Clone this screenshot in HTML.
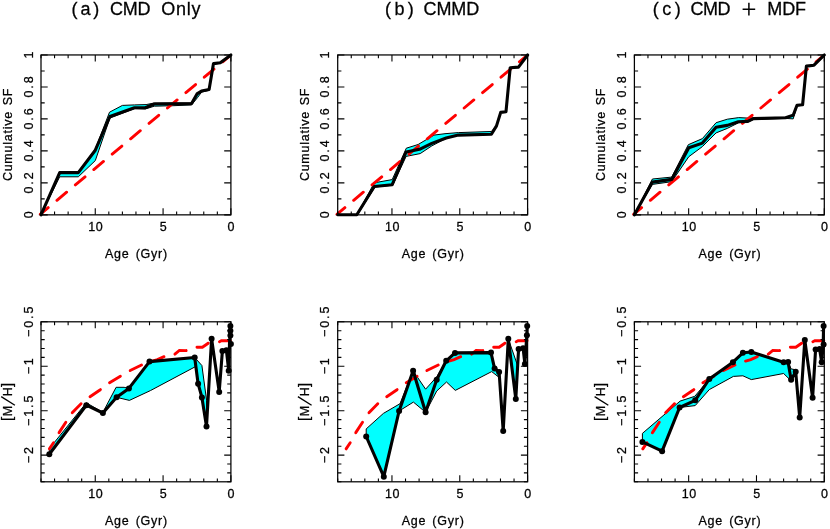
<!DOCTYPE html>
<html><head><meta charset="utf-8"><title>SFH</title>
<style>
html,body{margin:0;padding:0;background:#fff;}
body{width:830px;height:529px;overflow:hidden;font-family:"Liberation Sans",sans-serif;}
svg{display:block;}
text{stroke:#000;stroke-width:0.28px;}
</style></head><body>
<svg width="830" height="529" viewBox="0 0 830 529">
<rect width="830" height="529" fill="#fff"/>
<defs>
<clipPath id="ct0"><rect x="38.80" y="54.45" width="192.60" height="160.90"/></clipPath>
<clipPath id="cb0"><rect x="40.50" y="321.30" width="192.40" height="161.00"/></clipPath>
<clipPath id="ct1"><rect x="335.50" y="54.45" width="192.60" height="160.90"/></clipPath>
<clipPath id="cb1"><rect x="337.20" y="321.30" width="192.40" height="161.00"/></clipPath>
<clipPath id="ct2"><rect x="632.20" y="54.45" width="192.60" height="160.90"/></clipPath>
<clipPath id="cb2"><rect x="633.90" y="321.30" width="192.40" height="161.00"/></clipPath>
</defs>
<g font-family="Liberation Sans, sans-serif" font-size="12.5" fill="#000" style="opacity:0.999">
<text x="71.5" y="15" font-size="18" stroke="none" textLength="27.8" lengthAdjust="spacing">(a)</text>
<text x="110.1" y="15" font-size="18" stroke="none" textLength="40.3" lengthAdjust="spacing">CMD</text>
<text x="161.2" y="15" font-size="18" stroke="none" textLength="39.3" lengthAdjust="spacing">Only</text>
<polygon points="41.0,214.8 59.7,171.7 78.3,171.7 95.3,149.1 109.5,112.2 122.4,105.4 134.6,104.9 146.1,104.6 154.3,103.0 191.6,103.0 197.0,93.5 201.5,90.8 209.1,89.3 213.5,63.6 220.3,62.8 230.9,55.0 230.9,55.0 220.3,63.3 213.5,64.0 209.1,90.3 201.5,92.2 197.7,97.4 191.6,104.9 173.9,105.7 154.3,106.2 145.2,109.0 134.5,108.6 109.9,118.1 95.3,160.6 78.3,176.8 59.7,176.8 41.0,214.8" fill="#00ffff" stroke="#000" stroke-width="1" stroke-linejoin="round"/>
<polyline clip-path="url(#ct0)" points="39.6,214.8 230.9,55.0" fill="none" stroke="#ff0000" stroke-width="2.9" stroke-linecap="round" stroke-dasharray="12.6 11.4" stroke-dashoffset="1.4"/>
<polyline points="41.0,214.8 59.7,172.6 78.3,172.6 95.3,150.2 109.9,116.5 134.5,107.8 145.2,107.8 154.3,104.0 191.6,103.6 197.0,93.9 201.5,91.1 209.1,89.6 213.5,63.6 220.3,62.8 230.9,55.0" fill="none" stroke="#000" stroke-width="3.1" stroke-linejoin="round" stroke-linecap="round"/>
<path d="M230.90 214.85v-6.5M230.90 54.95v6.5M217.34 214.85v-3.4M217.34 54.95v3.4M203.77 214.85v-3.4M203.77 54.95v3.4M190.21 214.85v-3.4M190.21 54.95v3.4M176.64 214.85v-3.4M176.64 54.95v3.4M163.08 214.85v-6.5M163.08 54.95v6.5M149.51 214.85v-3.4M149.51 54.95v3.4M135.95 214.85v-3.4M135.95 54.95v3.4M122.39 214.85v-3.4M122.39 54.95v3.4M108.82 214.85v-3.4M108.82 54.95v3.4M95.26 214.85v-6.5M95.26 54.95v6.5M81.69 214.85v-3.4M81.69 54.95v3.4M68.13 214.85v-3.4M68.13 54.95v3.4M54.56 214.85v-3.4M54.56 54.95v3.4M41.00 214.85v-3.4M41.00 54.95v3.4M41.00 214.85h6.7M230.90 214.85h-6.7M41.00 198.86h3.7M230.90 198.86h-3.7M41.00 182.87h6.7M230.90 182.87h-6.7M41.00 166.88h3.7M230.90 166.88h-3.7M41.00 150.89h6.7M230.90 150.89h-6.7M41.00 134.90h3.7M230.90 134.90h-3.7M41.00 118.91h6.7M230.90 118.91h-6.7M41.00 102.92h3.7M230.90 102.92h-3.7M41.00 86.93h6.7M230.90 86.93h-6.7M41.00 70.94h3.7M230.90 70.94h-3.7M41.00 54.95h6.7M230.90 54.95h-6.7" stroke="#000" stroke-width="1.1" fill="none"/>
<rect x="41.00" y="54.95" width="189.90" height="159.90" fill="none" stroke="#000" stroke-width="1.25"/>
<text x="95.8" y="231.2" text-anchor="middle" letter-spacing="0.6">10</text>
<text x="163.6" y="231.2" text-anchor="middle" letter-spacing="0.6">5</text>
<text x="231.4" y="231.2" text-anchor="middle" letter-spacing="0.6">0</text>
<text x="136.4" y="257.9" text-anchor="middle" letter-spacing="0.75" word-spacing="2">Age (Gyr)</text>
<text transform="translate(32.6 213.9) rotate(-90)" text-anchor="middle" letter-spacing="1.9">0</text>
<text transform="translate(32.6 182.0) rotate(-90)" text-anchor="middle" letter-spacing="1.9">0.2</text>
<text transform="translate(32.6 150.0) rotate(-90)" text-anchor="middle" letter-spacing="1.9">0.4</text>
<text transform="translate(32.6 118.0) rotate(-90)" text-anchor="middle" letter-spacing="1.9">0.6</text>
<text transform="translate(32.6 86.0) rotate(-90)" text-anchor="middle" letter-spacing="1.9">0.8</text>
<text transform="translate(32.6 54.1) rotate(-90)" text-anchor="middle" letter-spacing="1.9">1</text>
<text transform="translate(11.9 134.5) rotate(-90)" text-anchor="middle" letter-spacing="0.75" word-spacing="1.5">Cumulative SF</text>
<polygon points="49.3,448.7 86.3,402.8 102.9,412.3 116.1,387.3 124.1,387.3 128.9,388.4 149.5,361.6 194.7,357.5 201.9,365.5 206.6,400.3 206.5,426.4 206.5,426.4 201.9,397.4 198.1,383.7 196.3,366.2 150.6,390.5 129.4,400.4 116.6,397.3 102.9,413.0 86.3,405.2 49.3,454.3" fill="#00ffff" stroke="#000" stroke-width="1" stroke-linejoin="round"/>
<polyline clip-path="url(#cb0)" points="49.4,448.9 54.0,442.0 59.4,432.1 66.2,421.6 72.5,412.4 81.0,403.8 89.7,396.9 100.3,389.7 109.2,383.0 120.9,376.0 129.8,370.7 141.8,364.9 149.8,361.7 157.4,359.6 163.9,356.7 173.7,355.1 179.4,350.4 186.1,350.6 190.9,348.5 195.6,347.3 202.4,347.3 208.2,343.2 217.9,342.5 221.4,340.8 230.4,340.8" fill="none" stroke="#ff0000" stroke-width="2.9" stroke-linecap="round" stroke-dasharray="12.6 11.4" stroke-dashoffset="5.2"/>
<polyline points="49.3,454.3 86.3,405.2 102.9,413.0 116.6,397.3 128.9,388.4 149.5,361.6 194.7,357.5 198.1,383.7 201.9,397.4 206.5,426.4 211.6,338.8 219.2,391.9 222.4,350.9 226.4,350.3 228.7,370.7 229.5,344.1 230.0,335.5 230.2,330.8 230.4,325.9" fill="none" stroke="#000" stroke-width="3.1" stroke-linejoin="round" stroke-linecap="round"/>
<circle cx="49.3" cy="454.3" r="3.0"/>
<circle cx="86.3" cy="405.2" r="3.0"/>
<circle cx="102.9" cy="413.0" r="3.0"/>
<circle cx="116.6" cy="397.3" r="3.0"/>
<circle cx="128.9" cy="388.4" r="3.0"/>
<circle cx="149.5" cy="361.6" r="3.0"/>
<circle cx="194.7" cy="357.5" r="3.0"/>
<circle cx="198.1" cy="383.7" r="3.0"/>
<circle cx="201.9" cy="397.4" r="3.0"/>
<circle cx="206.5" cy="426.4" r="3.0"/>
<circle cx="211.6" cy="338.8" r="3.0"/>
<circle cx="219.2" cy="391.9" r="3.0"/>
<circle cx="222.4" cy="350.9" r="3.0"/>
<circle cx="226.4" cy="350.3" r="3.0"/>
<circle cx="228.7" cy="370.7" r="3.0"/>
<circle cx="230.9" cy="344.1" r="3.0"/>
<circle cx="230.4" cy="335.5" r="3.0"/>
<circle cx="230.4" cy="330.8" r="3.0"/>
<circle cx="230.4" cy="325.9" r="3.0"/>
<path d="M230.90 481.80v-6.5M230.90 321.80v6.5M217.34 481.80v-3.4M217.34 321.80v3.4M203.77 481.80v-3.4M203.77 321.80v3.4M190.21 481.80v-3.4M190.21 321.80v3.4M176.64 481.80v-3.4M176.64 321.80v3.4M163.08 481.80v-6.5M163.08 321.80v6.5M149.51 481.80v-3.4M149.51 321.80v3.4M135.95 481.80v-3.4M135.95 321.80v3.4M122.39 481.80v-3.4M122.39 321.80v3.4M108.82 481.80v-3.4M108.82 321.80v3.4M95.26 481.80v-6.5M95.26 321.80v6.5M81.69 481.80v-3.4M81.69 321.80v3.4M68.13 481.80v-3.4M68.13 321.80v3.4M54.56 481.80v-3.4M54.56 321.80v3.4M41.00 481.80v-3.4M41.00 321.80v3.4M41.00 321.80h6.7M230.90 321.80h-6.7M41.00 330.69h3.7M230.90 330.69h-3.7M41.00 339.58h3.7M230.90 339.58h-3.7M41.00 348.47h3.7M230.90 348.47h-3.7M41.00 357.36h3.7M230.90 357.36h-3.7M41.00 366.24h6.7M230.90 366.24h-6.7M41.00 375.13h3.7M230.90 375.13h-3.7M41.00 384.02h3.7M230.90 384.02h-3.7M41.00 392.91h3.7M230.90 392.91h-3.7M41.00 401.80h3.7M230.90 401.80h-3.7M41.00 410.69h6.7M230.90 410.69h-6.7M41.00 419.58h3.7M230.90 419.58h-3.7M41.00 428.47h3.7M230.90 428.47h-3.7M41.00 437.36h3.7M230.90 437.36h-3.7M41.00 446.24h3.7M230.90 446.24h-3.7M41.00 455.13h6.7M230.90 455.13h-6.7M41.00 464.02h3.7M230.90 464.02h-3.7M41.00 472.91h3.7M230.90 472.91h-3.7M41.00 481.80h3.7M230.90 481.80h-3.7" stroke="#000" stroke-width="1.1" fill="none"/>
<rect x="41.00" y="321.80" width="189.90" height="160.00" fill="none" stroke="#000" stroke-width="1.25"/>
<text x="95.8" y="498.1" text-anchor="middle" letter-spacing="0.6">10</text>
<text x="163.6" y="498.1" text-anchor="middle" letter-spacing="0.6">5</text>
<text x="231.4" y="498.1" text-anchor="middle" letter-spacing="0.6">0</text>
<text x="136.4" y="524.8" text-anchor="middle" letter-spacing="0.75" word-spacing="2">Age (Gyr)</text>
<text transform="translate(32.6 320.9) rotate(-90)" text-anchor="middle" letter-spacing="1.9">−0.5</text>
<text transform="translate(32.6 365.3) rotate(-90)" text-anchor="middle" letter-spacing="1.9">−1</text>
<text transform="translate(32.6 409.8) rotate(-90)" text-anchor="middle" letter-spacing="1.9">−1.5</text>
<text transform="translate(32.6 454.2) rotate(-90)" text-anchor="middle" letter-spacing="1.9">−2</text>
<text transform="translate(11.9 0.0) rotate(-90)" text-anchor="middle" letter-spacing="0.75" word-spacing="1.5"></text>
<text transform="translate(11.8 384.80) rotate(-90)" text-anchor="middle" font-size="15">]</text>
<text transform="translate(11.8 391.65) rotate(-90)" text-anchor="middle" font-size="12.5">H</text>
<text transform="translate(11.8 411.15) rotate(-90)" text-anchor="middle" font-size="12.5">M</text>
<text transform="translate(11.8 418.80) rotate(-90)" text-anchor="middle" font-size="15">[</text>
<path d="M14.9 405.3L1.2 396.6" stroke="#000" stroke-width="1.35" fill="none"/>
<text x="385.0" y="15" font-size="18" stroke="none" textLength="28.8" lengthAdjust="spacing">(b)</text>
<text x="423.5" y="15" font-size="18" stroke="none" textLength="55.8" lengthAdjust="spacing">CMMD</text>
<polygon points="337.7,214.8 356.8,214.8 374.3,182.8 392.2,179.6 406.3,148.2 418.1,144.5 434.0,135.1 445.0,133.7 458.4,132.6 491.4,131.5 496.5,125.6 500.7,112.4 506.0,111.7 510.2,67.7 518.5,67.1 527.6,55.0 527.6,55.0 518.5,67.1 510.2,67.7 506.0,111.7 500.7,112.4 496.5,125.9 491.4,134.2 458.4,135.1 446.2,138.3 431.8,145.9 420.2,153.6 406.1,156.4 392.8,185.2 375.0,187.0 357.4,214.8 337.7,214.8" fill="#00ffff" stroke="#000" stroke-width="1" stroke-linejoin="round"/>
<polyline clip-path="url(#ct1)" points="336.3,214.8 527.6,55.0" fill="none" stroke="#ff0000" stroke-width="2.9" stroke-linecap="round" stroke-dasharray="12.6 11.4" stroke-dashoffset="1.4"/>
<polyline points="337.7,214.8 356.8,214.8 374.3,186.5 392.2,184.7 406.1,152.0 419.5,149.3 431.8,143.4 446.2,138.0 458.4,135.1 491.4,134.2 496.5,125.9 500.7,112.4 506.0,111.7 510.2,67.7 518.5,67.1 527.6,55.0" fill="none" stroke="#000" stroke-width="3.1" stroke-linejoin="round" stroke-linecap="round"/>
<path d="M527.60 214.85v-6.5M527.60 54.95v6.5M514.04 214.85v-3.4M514.04 54.95v3.4M500.47 214.85v-3.4M500.47 54.95v3.4M486.91 214.85v-3.4M486.91 54.95v3.4M473.34 214.85v-3.4M473.34 54.95v3.4M459.78 214.85v-6.5M459.78 54.95v6.5M446.21 214.85v-3.4M446.21 54.95v3.4M432.65 214.85v-3.4M432.65 54.95v3.4M419.09 214.85v-3.4M419.09 54.95v3.4M405.52 214.85v-3.4M405.52 54.95v3.4M391.96 214.85v-6.5M391.96 54.95v6.5M378.39 214.85v-3.4M378.39 54.95v3.4M364.83 214.85v-3.4M364.83 54.95v3.4M351.26 214.85v-3.4M351.26 54.95v3.4M337.70 214.85v-3.4M337.70 54.95v3.4M337.70 214.85h6.7M527.60 214.85h-6.7M337.70 198.86h3.7M527.60 198.86h-3.7M337.70 182.87h6.7M527.60 182.87h-6.7M337.70 166.88h3.7M527.60 166.88h-3.7M337.70 150.89h6.7M527.60 150.89h-6.7M337.70 134.90h3.7M527.60 134.90h-3.7M337.70 118.91h6.7M527.60 118.91h-6.7M337.70 102.92h3.7M527.60 102.92h-3.7M337.70 86.93h6.7M527.60 86.93h-6.7M337.70 70.94h3.7M527.60 70.94h-3.7M337.70 54.95h6.7M527.60 54.95h-6.7" stroke="#000" stroke-width="1.1" fill="none"/>
<rect x="337.70" y="54.95" width="189.90" height="159.90" fill="none" stroke="#000" stroke-width="1.25"/>
<text x="392.5" y="231.2" text-anchor="middle" letter-spacing="0.6">10</text>
<text x="460.3" y="231.2" text-anchor="middle" letter-spacing="0.6">5</text>
<text x="528.1" y="231.2" text-anchor="middle" letter-spacing="0.6">0</text>
<text x="433.1" y="257.9" text-anchor="middle" letter-spacing="0.75" word-spacing="2">Age (Gyr)</text>
<text transform="translate(329.3 213.9) rotate(-90)" text-anchor="middle" letter-spacing="1.9">0</text>
<text transform="translate(329.3 182.0) rotate(-90)" text-anchor="middle" letter-spacing="1.9">0.2</text>
<text transform="translate(329.3 150.0) rotate(-90)" text-anchor="middle" letter-spacing="1.9">0.4</text>
<text transform="translate(329.3 118.0) rotate(-90)" text-anchor="middle" letter-spacing="1.9">0.6</text>
<text transform="translate(329.3 86.0) rotate(-90)" text-anchor="middle" letter-spacing="1.9">0.8</text>
<text transform="translate(329.3 54.1) rotate(-90)" text-anchor="middle" letter-spacing="1.9">1</text>
<text transform="translate(308.6 134.5) rotate(-90)" text-anchor="middle" letter-spacing="0.75" word-spacing="1.5">Cumulative SF</text>
<polygon points="366.2,428.9 383.4,413.4 400.0,403.7 413.1,370.8 425.6,389.2 436.7,376.9 446.2,360.8 455.0,352.9 491.0,352.6 494.6,368.0 499.1,371.6 499.1,372.0 497.8,376.4 491.7,371.6 455.3,390.4 446.5,382.0 436.7,391.1 425.6,412.3 413.4,402.1 399.1,411.0 383.8,476.7 366.2,436.5" fill="#00ffff" stroke="#000" stroke-width="1" stroke-linejoin="round"/>
<polygon points="508.3,338.8 517.8,366.2 515.8,399.0" fill="#00ffff" stroke="#000" stroke-width="1" stroke-linejoin="round"/>
<polyline clip-path="url(#cb1)" points="346.1,448.9 350.7,442.0 356.1,432.1 362.9,421.6 369.2,412.4 377.7,403.8 386.4,396.9 397.0,389.7 405.9,383.0 417.6,376.0 426.5,370.7 438.5,364.9 446.5,361.7 454.1,359.6 460.6,356.7 470.4,355.1 476.1,350.4 482.8,350.6 487.6,348.5 492.3,347.3 499.1,347.3 504.9,343.2 514.6,342.5 518.1,340.8 527.1,340.8" fill="none" stroke="#ff0000" stroke-width="2.9" stroke-linecap="round" stroke-dasharray="12.6 11.4" stroke-dashoffset="5.2"/>
<polyline points="366.2,436.5 383.8,476.7 399.1,411.0 413.1,370.8 425.6,412.3 436.7,379.7 446.2,360.8 455.0,352.9 491.0,352.6 494.6,368.6 499.1,372.0 503.2,431.0 508.3,338.8 515.8,399.0 518.6,348.9 523.1,348.2 524.9,364.1 526.2,344.1 526.9,335.2 527.2,326.1" fill="none" stroke="#000" stroke-width="3.1" stroke-linejoin="round" stroke-linecap="round"/>
<circle cx="366.2" cy="436.5" r="3.0"/>
<circle cx="383.8" cy="476.7" r="3.0"/>
<circle cx="399.1" cy="411.0" r="3.0"/>
<circle cx="413.1" cy="370.8" r="3.0"/>
<circle cx="425.6" cy="412.3" r="3.0"/>
<circle cx="436.7" cy="379.7" r="3.0"/>
<circle cx="446.2" cy="360.8" r="3.0"/>
<circle cx="455.0" cy="352.9" r="3.0"/>
<circle cx="491.0" cy="352.6" r="3.0"/>
<circle cx="494.6" cy="368.6" r="3.0"/>
<circle cx="499.1" cy="372.0" r="3.0"/>
<circle cx="503.2" cy="431.0" r="3.0"/>
<circle cx="508.3" cy="338.8" r="3.0"/>
<circle cx="515.8" cy="399.0" r="3.0"/>
<circle cx="518.6" cy="348.9" r="3.0"/>
<circle cx="523.1" cy="348.2" r="3.0"/>
<circle cx="524.9" cy="364.1" r="3.0"/>
<circle cx="526.9" cy="335.2" r="3.0"/>
<circle cx="527.2" cy="326.1" r="3.0"/>
<path d="M527.60 481.80v-6.5M527.60 321.80v6.5M514.04 481.80v-3.4M514.04 321.80v3.4M500.47 481.80v-3.4M500.47 321.80v3.4M486.91 481.80v-3.4M486.91 321.80v3.4M473.34 481.80v-3.4M473.34 321.80v3.4M459.78 481.80v-6.5M459.78 321.80v6.5M446.21 481.80v-3.4M446.21 321.80v3.4M432.65 481.80v-3.4M432.65 321.80v3.4M419.09 481.80v-3.4M419.09 321.80v3.4M405.52 481.80v-3.4M405.52 321.80v3.4M391.96 481.80v-6.5M391.96 321.80v6.5M378.39 481.80v-3.4M378.39 321.80v3.4M364.83 481.80v-3.4M364.83 321.80v3.4M351.26 481.80v-3.4M351.26 321.80v3.4M337.70 481.80v-3.4M337.70 321.80v3.4M337.70 321.80h6.7M527.60 321.80h-6.7M337.70 330.69h3.7M527.60 330.69h-3.7M337.70 339.58h3.7M527.60 339.58h-3.7M337.70 348.47h3.7M527.60 348.47h-3.7M337.70 357.36h3.7M527.60 357.36h-3.7M337.70 366.24h6.7M527.60 366.24h-6.7M337.70 375.13h3.7M527.60 375.13h-3.7M337.70 384.02h3.7M527.60 384.02h-3.7M337.70 392.91h3.7M527.60 392.91h-3.7M337.70 401.80h3.7M527.60 401.80h-3.7M337.70 410.69h6.7M527.60 410.69h-6.7M337.70 419.58h3.7M527.60 419.58h-3.7M337.70 428.47h3.7M527.60 428.47h-3.7M337.70 437.36h3.7M527.60 437.36h-3.7M337.70 446.24h3.7M527.60 446.24h-3.7M337.70 455.13h6.7M527.60 455.13h-6.7M337.70 464.02h3.7M527.60 464.02h-3.7M337.70 472.91h3.7M527.60 472.91h-3.7M337.70 481.80h3.7M527.60 481.80h-3.7" stroke="#000" stroke-width="1.1" fill="none"/>
<rect x="337.70" y="321.80" width="189.90" height="160.00" fill="none" stroke="#000" stroke-width="1.25"/>
<text x="392.5" y="498.1" text-anchor="middle" letter-spacing="0.6">10</text>
<text x="460.3" y="498.1" text-anchor="middle" letter-spacing="0.6">5</text>
<text x="528.1" y="498.1" text-anchor="middle" letter-spacing="0.6">0</text>
<text x="433.1" y="524.8" text-anchor="middle" letter-spacing="0.75" word-spacing="2">Age (Gyr)</text>
<text transform="translate(329.3 320.9) rotate(-90)" text-anchor="middle" letter-spacing="1.9">−0.5</text>
<text transform="translate(329.3 365.3) rotate(-90)" text-anchor="middle" letter-spacing="1.9">−1</text>
<text transform="translate(329.3 409.8) rotate(-90)" text-anchor="middle" letter-spacing="1.9">−1.5</text>
<text transform="translate(329.3 454.2) rotate(-90)" text-anchor="middle" letter-spacing="1.9">−2</text>
<text transform="translate(308.6 0.0) rotate(-90)" text-anchor="middle" letter-spacing="0.75" word-spacing="1.5"></text>
<text transform="translate(308.5 384.80) rotate(-90)" text-anchor="middle" font-size="15">]</text>
<text transform="translate(308.5 391.65) rotate(-90)" text-anchor="middle" font-size="12.5">H</text>
<text transform="translate(308.5 411.15) rotate(-90)" text-anchor="middle" font-size="12.5">M</text>
<text transform="translate(308.5 418.80) rotate(-90)" text-anchor="middle" font-size="15">[</text>
<path d="M311.6 405.3L297.9 396.6" stroke="#000" stroke-width="1.35" fill="none"/>
<text x="652.7" y="15" font-size="18" stroke="none" textLength="28.1" lengthAdjust="spacing">(c)</text>
<text x="690.5" y="15" font-size="18" stroke="none" textLength="40.0" lengthAdjust="spacing">CMD</text>
<path d="M742.6 9.2H755.2M748.9 2.8V15.6" stroke="#000" stroke-width="1.5" fill="none"/>
<text x="767.2" y="15" font-size="18" stroke="none" textLength="38.9" lengthAdjust="spacing">MDF</text>
<polygon points="634.4,214.8 652.4,179.0 671.7,177.1 688.3,144.7 702.4,138.6 716.1,122.7 727.3,119.2 738.7,117.6 748.3,118.1 753.5,117.8 785.6,117.3 793.2,114.8 797.0,104.9 802.6,104.6 806.4,66.1 814.0,65.2 824.3,55.0 824.3,55.0 814.0,65.5 806.4,66.4 802.6,105.2 797.0,106.2 793.2,118.9 785.6,118.4 753.5,119.4 747.8,122.1 738.7,122.7 727.3,128.4 716.1,132.9 702.4,146.6 688.8,156.7 671.7,181.7 652.4,184.4 634.4,214.8" fill="#00ffff" stroke="#000" stroke-width="1" stroke-linejoin="round"/>
<polyline clip-path="url(#ct2)" points="633.0,214.8 824.3,55.0" fill="none" stroke="#ff0000" stroke-width="2.9" stroke-linecap="round" stroke-dasharray="12.6 11.4" stroke-dashoffset="1.4"/>
<polyline points="634.4,214.8 652.4,182.1 671.7,179.4 688.8,147.7 702.4,143.1 716.1,127.2 727.3,125.4 738.3,121.8 747.8,121.4 753.5,118.6 785.6,117.7 793.2,115.2 797.0,105.2 802.6,104.8 806.4,66.1 814.0,65.2 824.3,55.0" fill="none" stroke="#000" stroke-width="3.1" stroke-linejoin="round" stroke-linecap="round"/>
<path d="M824.30 214.85v-6.5M824.30 54.95v6.5M810.74 214.85v-3.4M810.74 54.95v3.4M797.17 214.85v-3.4M797.17 54.95v3.4M783.61 214.85v-3.4M783.61 54.95v3.4M770.04 214.85v-3.4M770.04 54.95v3.4M756.48 214.85v-6.5M756.48 54.95v6.5M742.91 214.85v-3.4M742.91 54.95v3.4M729.35 214.85v-3.4M729.35 54.95v3.4M715.79 214.85v-3.4M715.79 54.95v3.4M702.22 214.85v-3.4M702.22 54.95v3.4M688.66 214.85v-6.5M688.66 54.95v6.5M675.09 214.85v-3.4M675.09 54.95v3.4M661.53 214.85v-3.4M661.53 54.95v3.4M647.96 214.85v-3.4M647.96 54.95v3.4M634.40 214.85v-3.4M634.40 54.95v3.4M634.40 214.85h6.7M824.30 214.85h-6.7M634.40 198.86h3.7M824.30 198.86h-3.7M634.40 182.87h6.7M824.30 182.87h-6.7M634.40 166.88h3.7M824.30 166.88h-3.7M634.40 150.89h6.7M824.30 150.89h-6.7M634.40 134.90h3.7M824.30 134.90h-3.7M634.40 118.91h6.7M824.30 118.91h-6.7M634.40 102.92h3.7M824.30 102.92h-3.7M634.40 86.93h6.7M824.30 86.93h-6.7M634.40 70.94h3.7M824.30 70.94h-3.7M634.40 54.95h6.7M824.30 54.95h-6.7" stroke="#000" stroke-width="1.1" fill="none"/>
<rect x="634.40" y="54.95" width="189.90" height="159.90" fill="none" stroke="#000" stroke-width="1.25"/>
<text x="689.2" y="231.2" text-anchor="middle" letter-spacing="0.6">10</text>
<text x="757.0" y="231.2" text-anchor="middle" letter-spacing="0.6">5</text>
<text x="824.8" y="231.2" text-anchor="middle" letter-spacing="0.6">0</text>
<text x="729.9" y="257.9" text-anchor="middle" letter-spacing="0.75" word-spacing="2">Age (Gyr)</text>
<text transform="translate(626.0 213.9) rotate(-90)" text-anchor="middle" letter-spacing="1.9">0</text>
<text transform="translate(626.0 182.0) rotate(-90)" text-anchor="middle" letter-spacing="1.9">0.2</text>
<text transform="translate(626.0 150.0) rotate(-90)" text-anchor="middle" letter-spacing="1.9">0.4</text>
<text transform="translate(626.0 118.0) rotate(-90)" text-anchor="middle" letter-spacing="1.9">0.6</text>
<text transform="translate(626.0 86.0) rotate(-90)" text-anchor="middle" letter-spacing="1.9">0.8</text>
<text transform="translate(626.0 54.1) rotate(-90)" text-anchor="middle" letter-spacing="1.9">1</text>
<text transform="translate(605.3 134.5) rotate(-90)" text-anchor="middle" letter-spacing="0.75" word-spacing="1.5">Cumulative SF</text>
<polygon points="642.4,433.4 680.1,401.1 694.8,396.3 709.3,379.0 732.9,362.2 742.9,352.8 751.3,352.0 783.6,362.2 788.1,361.9 791.1,368.9 795.7,369.8 799.7,417.6 799.7,417.6 795.7,371.7 791.1,380.8 783.6,373.5 751.3,379.6 742.9,375.8 733.4,376.4 709.3,389.6 695.2,405.6 679.6,407.5 662.1,451.2 642.4,441.9" fill="#00ffff" stroke="#000" stroke-width="1" stroke-linejoin="round"/>
<polyline clip-path="url(#cb2)" points="642.8,448.9 647.4,442.0 652.8,432.1 659.6,421.6 665.9,412.4 674.4,403.8 683.1,396.9 693.7,389.7 702.6,383.0 714.3,376.0 723.2,370.7 735.2,364.9 743.2,361.7 750.8,359.6 757.3,356.7 767.1,355.1 772.8,350.4 779.5,350.6 784.3,348.5 789.0,347.3 795.8,347.3 801.6,343.2 811.3,342.5 814.8,340.8 823.8,340.8" fill="none" stroke="#ff0000" stroke-width="2.9" stroke-linecap="round" stroke-dasharray="12.6 11.4" stroke-dashoffset="5.2"/>
<polyline points="642.4,441.9 662.1,451.2 679.6,407.5 695.2,400.3 709.3,379.0 732.9,362.2 742.9,352.8 751.3,352.0 783.6,362.2 788.1,361.9 791.1,379.7 795.7,371.7 799.7,417.6 804.8,339.9 812.6,397.8 815.6,349.5 819.6,349.0 821.7,362.2 823.2,344.5 823.6,325.9" fill="none" stroke="#000" stroke-width="3.1" stroke-linejoin="round" stroke-linecap="round"/>
<circle cx="642.4" cy="441.9" r="3.0"/>
<circle cx="662.1" cy="451.2" r="3.0"/>
<circle cx="679.6" cy="407.5" r="3.0"/>
<circle cx="695.2" cy="400.3" r="3.0"/>
<circle cx="709.3" cy="379.0" r="3.0"/>
<circle cx="732.9" cy="362.2" r="3.0"/>
<circle cx="742.9" cy="352.8" r="3.0"/>
<circle cx="751.3" cy="352.0" r="3.0"/>
<circle cx="783.6" cy="362.2" r="3.0"/>
<circle cx="788.1" cy="361.9" r="3.0"/>
<circle cx="791.1" cy="379.7" r="3.0"/>
<circle cx="795.7" cy="371.7" r="3.0"/>
<circle cx="799.7" cy="417.6" r="3.0"/>
<circle cx="804.8" cy="339.9" r="3.0"/>
<circle cx="812.6" cy="397.8" r="3.0"/>
<circle cx="815.6" cy="349.5" r="3.0"/>
<circle cx="819.6" cy="349.0" r="3.0"/>
<circle cx="821.7" cy="362.2" r="3.0"/>
<circle cx="823.6" cy="344.5" r="3.0"/>
<circle cx="823.6" cy="325.9" r="3.0"/>
<path d="M824.30 481.80v-6.5M824.30 321.80v6.5M810.74 481.80v-3.4M810.74 321.80v3.4M797.17 481.80v-3.4M797.17 321.80v3.4M783.61 481.80v-3.4M783.61 321.80v3.4M770.04 481.80v-3.4M770.04 321.80v3.4M756.48 481.80v-6.5M756.48 321.80v6.5M742.91 481.80v-3.4M742.91 321.80v3.4M729.35 481.80v-3.4M729.35 321.80v3.4M715.79 481.80v-3.4M715.79 321.80v3.4M702.22 481.80v-3.4M702.22 321.80v3.4M688.66 481.80v-6.5M688.66 321.80v6.5M675.09 481.80v-3.4M675.09 321.80v3.4M661.53 481.80v-3.4M661.53 321.80v3.4M647.96 481.80v-3.4M647.96 321.80v3.4M634.40 481.80v-3.4M634.40 321.80v3.4M634.40 321.80h6.7M824.30 321.80h-6.7M634.40 330.69h3.7M824.30 330.69h-3.7M634.40 339.58h3.7M824.30 339.58h-3.7M634.40 348.47h3.7M824.30 348.47h-3.7M634.40 357.36h3.7M824.30 357.36h-3.7M634.40 366.24h6.7M824.30 366.24h-6.7M634.40 375.13h3.7M824.30 375.13h-3.7M634.40 384.02h3.7M824.30 384.02h-3.7M634.40 392.91h3.7M824.30 392.91h-3.7M634.40 401.80h3.7M824.30 401.80h-3.7M634.40 410.69h6.7M824.30 410.69h-6.7M634.40 419.58h3.7M824.30 419.58h-3.7M634.40 428.47h3.7M824.30 428.47h-3.7M634.40 437.36h3.7M824.30 437.36h-3.7M634.40 446.24h3.7M824.30 446.24h-3.7M634.40 455.13h6.7M824.30 455.13h-6.7M634.40 464.02h3.7M824.30 464.02h-3.7M634.40 472.91h3.7M824.30 472.91h-3.7M634.40 481.80h3.7M824.30 481.80h-3.7" stroke="#000" stroke-width="1.1" fill="none"/>
<rect x="634.40" y="321.80" width="189.90" height="160.00" fill="none" stroke="#000" stroke-width="1.25"/>
<text x="689.2" y="498.1" text-anchor="middle" letter-spacing="0.6">10</text>
<text x="757.0" y="498.1" text-anchor="middle" letter-spacing="0.6">5</text>
<text x="824.8" y="498.1" text-anchor="middle" letter-spacing="0.6">0</text>
<text x="729.9" y="524.8" text-anchor="middle" letter-spacing="0.75" word-spacing="2">Age (Gyr)</text>
<text transform="translate(626.0 320.9) rotate(-90)" text-anchor="middle" letter-spacing="1.9">−0.5</text>
<text transform="translate(626.0 365.3) rotate(-90)" text-anchor="middle" letter-spacing="1.9">−1</text>
<text transform="translate(626.0 409.8) rotate(-90)" text-anchor="middle" letter-spacing="1.9">−1.5</text>
<text transform="translate(626.0 454.2) rotate(-90)" text-anchor="middle" letter-spacing="1.9">−2</text>
<text transform="translate(605.3 0.0) rotate(-90)" text-anchor="middle" letter-spacing="0.75" word-spacing="1.5"></text>
<text transform="translate(605.2 384.80) rotate(-90)" text-anchor="middle" font-size="15">]</text>
<text transform="translate(605.2 391.65) rotate(-90)" text-anchor="middle" font-size="12.5">H</text>
<text transform="translate(605.2 411.15) rotate(-90)" text-anchor="middle" font-size="12.5">M</text>
<text transform="translate(605.2 418.80) rotate(-90)" text-anchor="middle" font-size="15">[</text>
<path d="M608.3 405.3L594.6 396.6" stroke="#000" stroke-width="1.35" fill="none"/>
</g>
</svg>
</body></html>
